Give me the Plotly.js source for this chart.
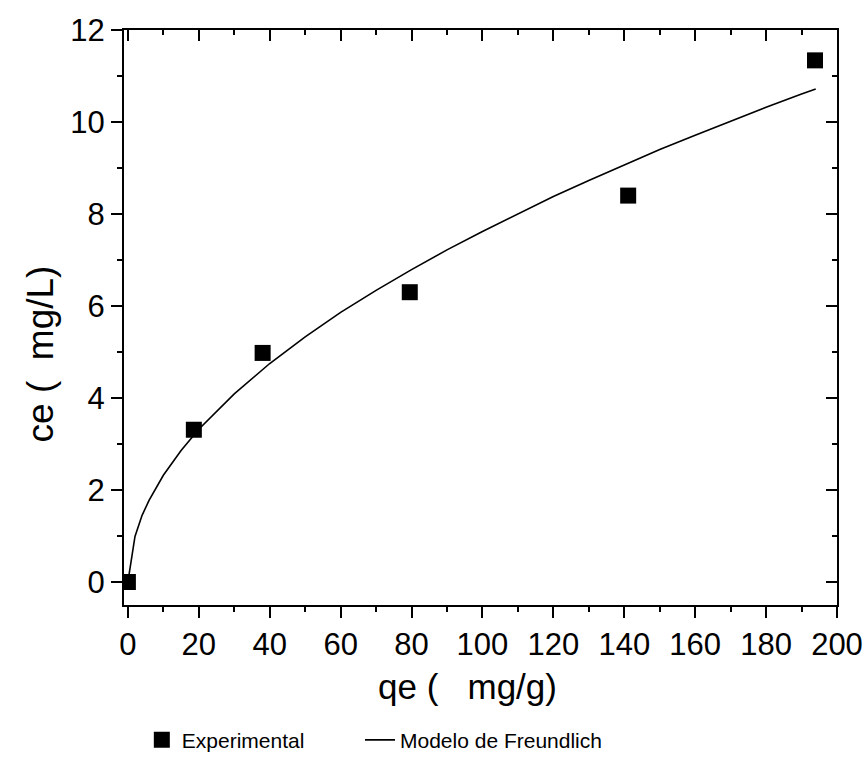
<!DOCTYPE html>
<html>
<head>
<meta charset="utf-8">
<script src="https://cdn.plot.ly/plotly-3.0.1.min.js"></script>
<style>html,body{margin:0;padding:0;background:#fff;}#chart{width:866px;height:771px;}</style>
</head>
<body>
<div id="chart"></div>
<script>
// Experimental data
const expQe = [0, 18.6, 38.0, 79.5, 141.1, 193.8];
const expCe = [0, 3.31, 4.98, 6.30, 8.40, 11.34];
// Freundlich model curve
const modQe = [0.3, 2, 4, 6, 10, 15, 20, 30, 40, 50, 60, 70, 80, 90, 100, 110, 120, 130, 140, 150, 160, 170, 180, 190, 194];
const modCe = [0.15, 0.99, 1.45, 1.78, 2.32, 2.86, 3.32, 4.09, 4.75, 5.33, 5.86, 6.34, 6.79, 7.22, 7.62, 8.00, 8.38, 8.73, 9.07, 9.40, 9.71, 10.02, 10.32, 10.61, 10.72];
const xTicks = [0, 20, 40, 60, 80, 100, 120, 140, 160, 180, 200];
const yTicks = [0, 2, 4, 6, 8, 10, 12];
const seriesNames = ["Experimental", "Modelo de Freundlich"];
const nb = "\u00A0";
const xTitle = "qe (" + nb + nb + nb + "mg/g)";
const yTitle = "ce (" + nb + nb + "mg/L)";

const FONT = "Liberation Sans, Arial, sans-serif";

const traces = [
  {x: expQe, y: expCe, type: "scatter", mode: "markers", name: seriesNames[0], legend: "legend",
   marker: {symbol: "square", size: 16, color: "#000"}},
  {x: modQe, y: modCe, type: "scatter", mode: "lines", name: seriesNames[1], legend: "legend2",
   line: {color: "#000", width: 1.6}},
  // empty trace so the mirrored frame axes (top/right) get drawn
  {x: [], y: [], type: "scatter", mode: "lines", xaxis: "x2", yaxis: "y2", showlegend: false, hoverinfo: "skip"}
];

const xr = [-1.1, 200];
const yr = [-0.5, 12];
const common = {showgrid: false, zeroline: false, showline: true, linecolor: "#000", linewidth: 2,
  tickcolor: "#000", tickwidth: 2, ticklen: 11};

const legendCommon = {orientation: "h", xanchor: "left", y: -0.233, yanchor: "middle",
  font: {size: 21, family: FONT, color: "#000"}, bgcolor: "rgba(0,0,0,0)"};

const layout = {
  width: 866, height: 771,
  margin: {l: 124, r: 29, t: 30, b: 165},
  paper_bgcolor: "#fff", plot_bgcolor: "#fff",
  font: {family: FONT, color: "#000"},
  showlegend: true,
  legend: Object.assign({}, legendCommon, {x: 0.025}),
  legend2: Object.assign({}, legendCommon, {x: 0.331}),
  xaxis: Object.assign({}, common, {range: xr, tickvals: xTicks, ticks: "outside",
    tickfont: {size: 31, family: FONT},
    minor: {dtick: 10, tick0: 0, ticks: "outside", ticklen: 5, tickwidth: 2, tickcolor: "#000"}}),
  yaxis: Object.assign({}, common, {range: yr, tickvals: yTicks, ticks: "outside",
    tickfont: {size: 31, family: FONT},
    minor: {dtick: 1, tick0: 0, ticks: "outside", ticklen: 5, tickwidth: 2, tickcolor: "#000"}}),
  xaxis2: Object.assign({}, common, {range: xr, tickvals: xTicks, ticks: "inside", overlaying: "x",
    side: "top", anchor: "y2", showticklabels: false,
    minor: {dtick: 10, tick0: 0, ticks: "inside", ticklen: 5, tickwidth: 2, tickcolor: "#000"}}),
  yaxis2: Object.assign({}, common, {range: yr, tickvals: yTicks, ticks: "inside", overlaying: "y",
    side: "right", anchor: "x2", showticklabels: false,
    minor: {dtick: 1, tick0: 0, ticks: "inside", ticklen: 5, tickwidth: 2, tickcolor: "#000"}}),
  annotations: [
    {text: xTitle, xref: "paper", yref: "paper", x: -0.0182, y: -0.142, xanchor: "center", yanchor: "middle",
     showarrow: false, font: {size: 35, family: FONT, color: "#000"}},
    {text: yTitle, xref: "paper", yref: "paper", x: -0.1178, y: 0.4358, xanchor: "center", yanchor: "middle",
     textangle: -90, showarrow: false, font: {size: 37, family: FONT, color: "#000"}}
  ]
};
// x title centre sits at ~467 px, i.e. slightly left of the plot centre
layout.annotations[0].x = 0.4818;

Plotly.newPlot("chart", traces, layout, {displayModeBar: false, staticPlot: true});
</script>
</body>
</html>
